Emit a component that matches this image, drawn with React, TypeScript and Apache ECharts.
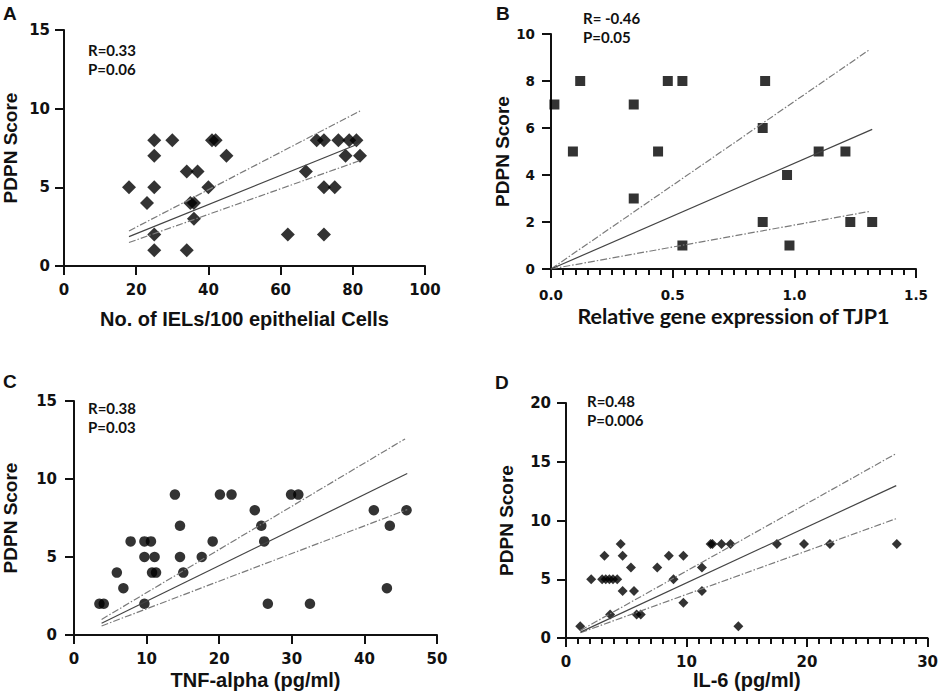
import React, { useEffect, useRef } from "react";
import * as echarts from "echarts";

// Panel A: IELs vs PDPN
const aX = [18, 23, 25, 25, 25, 25, 25, 30, 34, 34, 35, 36, 36, 37, 40, 41, 42, 45, 62, 67, 70, 72, 72, 72, 75, 76, 78, 79, 81, 82];
const aY = [5, 4, 8, 7, 5, 2, 1, 8, 6, 1, 4, 4, 3, 6, 5, 8, 8, 7, 2, 6, 8, 8, 5, 2, 5, 8, 7, 8, 8, 7];
const aFit = [[18, 1.87], [82, 7.8]];
const aUpper = [[18, 2.23], [82, 9.85]];
const aLower = [[18, 1.49], [82, 6.7]];

// Panel B: TJP1 vs PDPN
const bX = [0.014, 0.09, 0.12, 0.34, 0.34, 0.44, 0.48, 0.54, 0.54, 0.87, 0.87, 0.88, 0.97, 0.98, 1.1, 1.21, 1.23, 1.32];
const bY = [7, 5, 8, 7, 3, 5, 8, 8, 1, 6, 2, 8, 4, 1, 5, 5, 2, 2];
const bFit = [[0, 0], [1.32, 5.94]];
const bUpper = [[0, 0], [1.31, 9.34]];
const bLower = [[0, 0], [1.31, 2.45]];

// Panel C: TNF-alpha vs PDPN
const cX = [3.5, 4.1, 5.9, 6.8, 7.8, 9.7, 9.7, 9.7, 10.6, 11.1, 10.75, 11.3, 13.9, 14.6, 14.6, 15.05, 17.6, 19.1, 20.1, 21.7, 24.9, 25.8, 26.2, 26.7, 29.9, 30.9, 32.5, 41.3, 43.1, 43.5, 45.8];
const cY = [2, 2, 4, 3, 6, 6, 5, 2, 6, 5, 4, 4, 9, 7, 5, 4, 5, 6, 9, 9, 8, 7, 6, 2, 9, 9, 2, 8, 3, 7, 8];
const cFit = [[3.8, 0.75], [45.9, 10.35]];
const cUpper = [[3.8, 1.0], [45.6, 12.57]];
const cLower = [[3.8, 0.58], [45.9, 8.04]];

// Panel D: IL-6 vs PDPN
const dX = [1.18, 2.09, 3.0, 3.3, 3.6, 3.9, 4.25, 3.19, 4.54, 4.7, 4.7, 5.39, 5.64, 3.66, 5.86, 6.2, 7.57, 8.53, 8.92, 9.74, 9.74, 11.28, 11.28, 12.0, 12.15, 12.9, 13.65, 14.3, 17.5, 19.75, 21.9, 27.45];
const dY = [1, 5, 5, 5, 5, 5, 5, 7, 8, 7, 4, 6, 4, 2, 2, 2, 6, 7, 5, 7, 3, 4, 6, 8, 8, 8, 8, 1, 8, 8, 8, 8];
const dFit = [[1.2, 0.5], [27.4, 12.97]];
const dUpper = [[1.2, 0.65], [27.4, 15.7]];
const dLower = [[1.2, 0.45], [27.4, 10.16]];

const panels = [
  { key: "A", xs: aX, ys: aY, fit: aFit, up: aUpper, lo: aLower, xMin: 0, xMax: 100, xInt: 20, yMax: 15, yInt: 5,
    xName: "No. of IELs/100 epithelial Cells", r: "R=0.33", p: "P=0.06", symbol: "diamond", size: 14 },
  { key: "B", xs: bX, ys: bY, fit: bFit, up: bUpper, lo: bLower, xMin: 0, xMax: 1.5, xInt: 0.5, yMax: 10, yInt: 2,
    xName: "Relative gene expression of TJP1", r: "R= -0.46", p: "P=0.05", symbol: "rect", size: 10 },
  { key: "C", xs: cX, ys: cY, fit: cFit, up: cUpper, lo: cLower, xMin: 0, xMax: 50, xInt: 10, yMax: 15, yInt: 5,
    xName: "TNF-alpha (pg/ml)", r: "R=0.38", p: "P=0.03", symbol: "circle", size: 10.5 },
  { key: "D", xs: dX, ys: dY, fit: dFit, up: dUpper, lo: dLower, xMin: 0, xMax: 30, xInt: 10, yMax: 20, yInt: 5,
    xName: "IL-6 (pg/ml)", r: "R=0.48", p: "P=0.006", symbol: "diamond", size: 10 },
];

const grids = [
  { left: 62, top: 30, width: 363, height: 236 },
  { left: 551, top: 34, width: 365, height: 235 },
  { left: 72, top: 401, width: 365, height: 234 },
  { left: 566, top: 403, width: 363, height: 235 },
];

const layout = [
  { xNameGap: 43, xLabelMargin: 16, yLabelMargin: 14, yNameGap: 44, minor: false, xFont: "Liberation Sans", xNameSize: 20, tickSize: 15, letter: [3, 4], rp: [88, 40] },
  { xNameGap: 36, xLabelMargin: 19, yLabelMargin: 16, yNameGap: 38, minor: true, xFont: "Lato", xNameSize: 21.5, tickSize: 13.5, letter: [496, 4], rp: [583, 8] },
  { xNameGap: 35, xLabelMargin: 16, yLabelMargin: 17, yNameGap: 54, minor: false, xFont: "Liberation Sans", xNameSize: 20, tickSize: 15, letter: [3, 372], rp: [88, 398] },
  { xNameGap: 28, xLabelMargin: 16, yLabelMargin: 15, yNameGap: 50, minor: true, xFont: "Liberation Sans", xNameSize: 20, tickSize: 15, letter: [495, 373], rp: [587, 391] },
];

export default function App() {
  const ref = useRef<HTMLDivElement>(null);
  useEffect(() => {
    if (!ref.current) return;
    const chart = echarts.init(ref.current, undefined, { renderer: "svg" });
    const axisLine = { show: true, onZero: false, lineStyle: { color: "#111", width: 2 } };
    const tickFont = "DejaVu Sans";

    const xAxis = panels.map((p, i) => ({
      type: "value", gridIndex: i, min: p.xMin, max: p.xMax, interval: p.xInt,
      axisLine, splitLine: { show: false },
      axisTick: { show: true, inside: false, length: 9, lineStyle: { color: "#111", width: 2 } },
      minorTick: layout[i].minor ? { show: true, splitNumber: 10, length: 6, lineStyle: { color: "#111", width: 2 } } : { show: false },
      axisLabel: {
        color: "#111", fontWeight: "bold", fontSize: layout[i].tickSize, fontFamily: tickFont,
        margin: layout[i].xLabelMargin, formatter: i === 1 ? (v: number) => v.toFixed(1) : undefined,
      },
      name: p.xName, nameLocation: "middle", nameGap: layout[i].xNameGap,
      nameTextStyle: { color: "#111", fontWeight: "bold", fontSize: layout[i].xNameSize, fontFamily: layout[i].xFont },
    }));
    const yAxis = panels.map((p, i) => ({
      type: "value", gridIndex: i, min: 0, max: p.yMax, interval: p.yInt,
      axisLine, splitLine: { show: false },
      axisTick: { show: true, inside: false, length: 9, lineStyle: { color: "#111", width: 2 } },
      axisLabel: { color: "#111", fontWeight: "bold", fontSize: layout[i].tickSize, fontFamily: tickFont, margin: layout[i].yLabelMargin },
      name: "PDPN Score", nameLocation: "middle", nameGap: layout[i].yNameGap,
      nameTextStyle: { color: "#111", fontWeight: "bold", fontSize: 19, fontFamily: "Liberation Sans" },
    }));

    const series: any[] = [];
    panels.forEach((p, i) => {
      series.push({
        type: "line", xAxisIndex: i, yAxisIndex: i, data: p.up, symbol: "none", silent: true,
        lineStyle: { color: "#7a7a7a", width: 1.2, type: [7, 2, 1.5, 2] },
      });
      series.push({
        type: "line", xAxisIndex: i, yAxisIndex: i, data: p.lo, symbol: "none", silent: true,
        lineStyle: { color: "#7a7a7a", width: 1.2, type: [7, 2, 1.5, 2] },
      });
      series.push({
        type: "line", xAxisIndex: i, yAxisIndex: i, data: p.fit, symbol: "none", silent: true,
        lineStyle: { color: "#444", width: 1.2 },
      });
      series.push({
        type: "scatter", xAxisIndex: i, yAxisIndex: i, symbol: p.symbol, symbolSize: p.size,
        data: p.xs.map((x, k) => [x, p.ys[k]]),
        itemStyle: { color: "#000" },
      });
    });

    const graphic: any[] = [];
    panels.forEach((p, i) => {
      const L = layout[i];
      graphic.push({
        type: "text", left: L.letter[0], top: L.letter[1],
        style: { text: p.key, fill: "#111", font: "bold 19px 'Liberation Sans', Arial, sans-serif" },
      });
      graphic.push({
        type: "text", left: L.rp[0], top: L.rp[1],
        style: { text: p.r + "\n" + p.p, fill: "#111", font: "bold 15px Lato, sans-serif", lineHeight: 19 },
      });
    });

    chart.setOption({
      animation: false,
      backgroundColor: "#fff",
      grid: grids.map((g) => ({ ...g, containLabel: false })),
      xAxis, yAxis, series, graphic,
    });
    return () => chart.dispose();
  }, []);
  return <div ref={ref} style={{ position: "fixed", left: 0, top: 0, width: 941, height: 694 }} />;
}
